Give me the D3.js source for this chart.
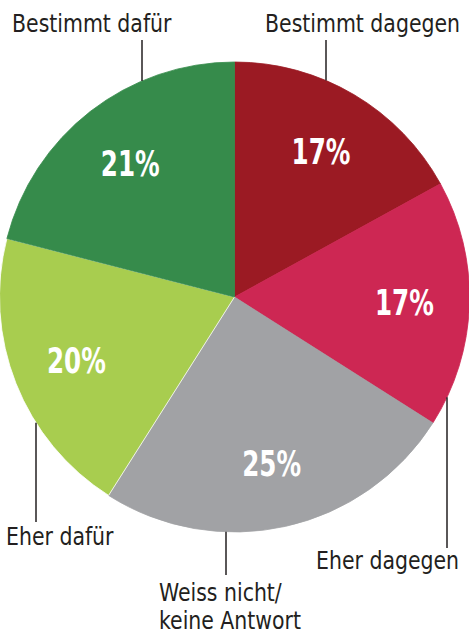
<!DOCTYPE html>
<html>
<head>
<meta charset="utf-8">
<script src="https://cdn.jsdelivr.net/npm/d3@7"></script>
<style>
  body { margin: 0; background: #fff; }
  text { font-family: "Liberation Sans Narrow", "DejaVu Sans Condensed", sans-serif; }
</style>
</head>
<body>
<svg id="pie" width="469" height="641"></svg>
<script>
// answers, clockwise from 12 o'clock
var categories = ["Bestimmt dagegen", "Eher dagegen", "Weiss nicht/keine Antwort", "Eher dafür", "Bestimmt dafür"];
var shares = [17, 17, 25, 20, 21];
var colors = ["#9b1a23", "#cd2753", "#a1a2a5", "#a8cd4f", "#368b4b"];

// callout layout: text lines, text start, first baseline, leader x, leader end y
var callouts = [
    {lines: ["Bestimmt dagegen"], x: 265, y: 32, lx: 326, ly: 40},
    {lines: ["Eher dagegen"], x: 316, y: 569, lx: 447, ly: 548},
    {lines: ["Weiss nicht/", "keine Antwort"], x: 159, y: 601, lx: 226, ly: 575},
    {lines: ["Eher dafür"], x: 6, y: 545, lx: 36, ly: 522},
    {lines: ["Bestimmt dafür"], x: 12, y: 32, lx: 142, ly: 40}
];

var svg = d3.select("#pie");
var cx = 234.5, cy = 297, radius = 235;
var narrow = 0.91, pctNarrow = 0.76;   // no condensed face installed, squeeze by hand

var data = categories.map((c, i) => ({name: c, value: shares[i], color: colors[i], callout: callouts[i]}));

var pie = d3.pie().sort(null).value(d => d.value);
var arcs = pie(data);

var arc = d3.arc().innerRadius(0).outerRadius(radius);
var labelArc = d3.arc().innerRadius(170).outerRadius(170);

var g = svg.append("g").attr("transform", `translate(${cx},${cy})`);

g.selectAll("path")
  .data(arcs)
  .join("path")
    .attr("d", arc)
    .attr("fill", d => d.data.color)
    .attr("stroke", d => d.index == 3 ? "#fff" : d.data.color)
    .attr("stroke-width", 0.8);

g.selectAll("text.pct")
  .data(arcs)
  .join("text")
    .attr("class", "pct")
    .attr("transform", d => `translate(${labelArc.centroid(d)}) scale(${pctNarrow},1)`)
    .attr("text-anchor", "middle")
    .attr("dy", "0.36em")
    .attr("fill", "#fff")
    .style("font-weight", "bold")
    .style("font-size", "36px")
    .text(d => d.data.value + "%");

// leader lines run from the rim of the pie to the label
var rimY = (x, above) => {
    var dx = x - cx;
    var h = Math.sqrt(radius * radius - dx * dx);
    return above ? cy - h : cy + h;
};

svg.append("g")
    .attr("stroke", "#231f20")
    .attr("stroke-width", 1.5)
  .selectAll("line")
  .data(data)
  .join("line")
    .attr("x1", d => d.callout.lx)
    .attr("x2", d => d.callout.lx)
    .attr("y1", d => rimY(d.callout.lx, d.callout.ly < cy))
    .attr("y2", d => d.callout.ly);

svg.append("g")
    .attr("fill", "#231f20")
    .style("font-size", "25px")
  .selectAll("text")
  .data(data)
  .join("text")
    .attr("transform", d => `translate(${d.callout.x},${d.callout.y}) scale(${narrow},1)`)
  .selectAll("tspan")
  .data(d => d.callout.lines)
  .join("tspan")
    .attr("x", 0)
    .attr("dy", (d, i) => i ? 28 : 0)
    .text(d => d);
</script>
</body>
</html>
